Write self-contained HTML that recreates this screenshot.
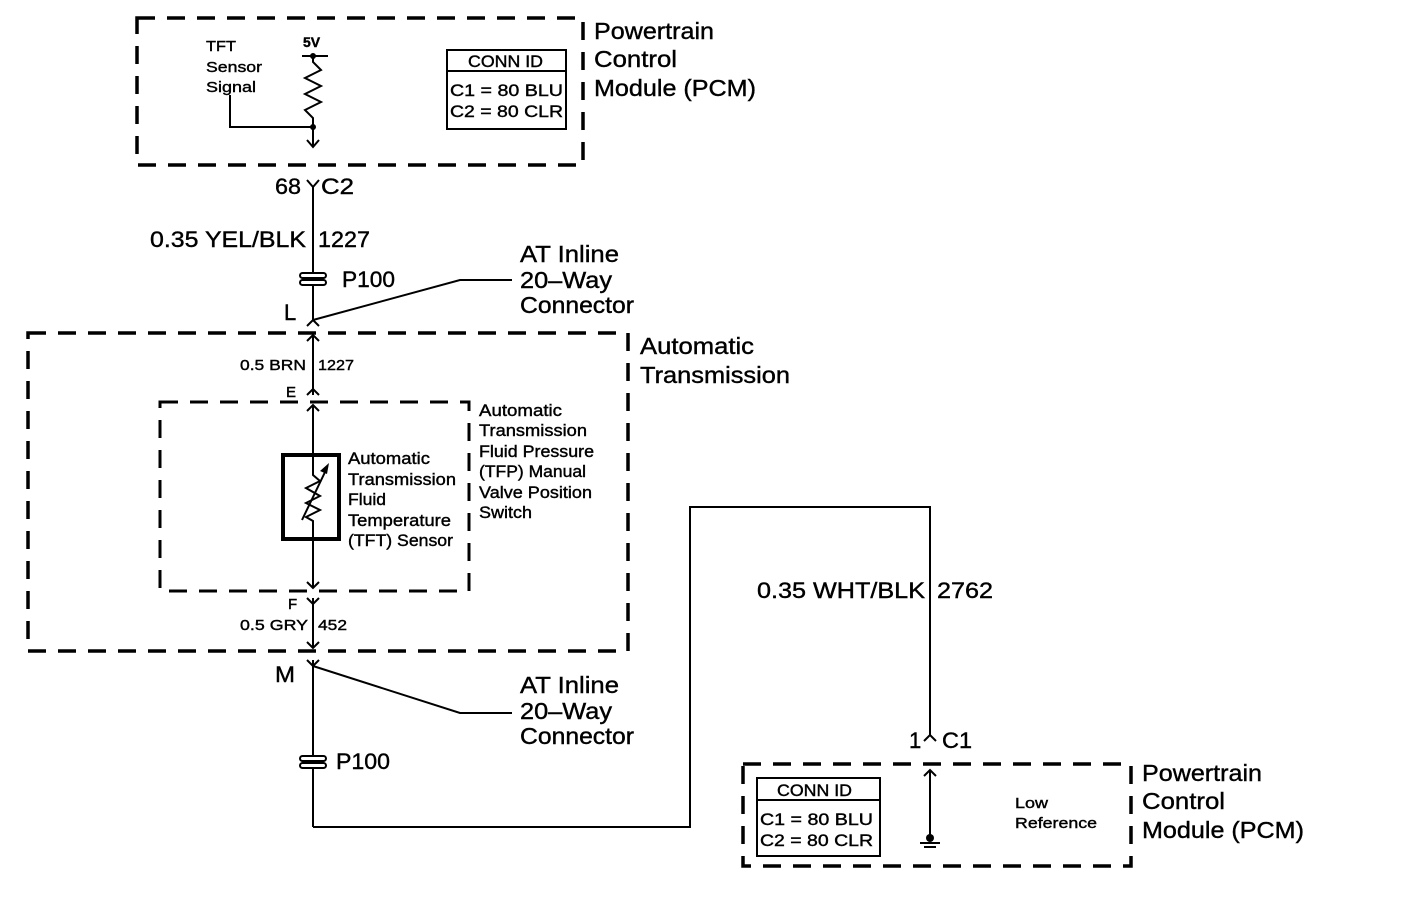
<!DOCTYPE html><html><head><style>html,body{margin:0;background:#fff}svg{display:block}text{font-family:"Liberation Sans",sans-serif;fill:#000;stroke:#000;stroke-width:0.4}</style></head><body>
<svg width="1408" height="910" xmlns="http://www.w3.org/2000/svg">
<g fill="none" stroke="#000" stroke-width="3.5" stroke-dasharray="18 12">
<rect x="137" y="18" width="446" height="147"/>
<rect x="28" y="333" width="600" height="318"/>
<rect x="160" y="402" width="309" height="189" stroke-width="3"/>
<rect x="743" y="764" width="388" height="102"/>
</g>
<g fill="none" stroke="#000" stroke-width="2">
<line x1="302" y1="56" x2="328" y2="56"/>
<polyline points="313,56 313,62 321,70 305,78 321,86 305,94 321,102 305,110 313,118 313,146"/>
<polyline points="307,140 313,147 319,140"/>
<polyline points="230,95 230,127 313,127"/>
<rect x="447" y="50" width="119" height="79"/>
<line x1="447" y1="71" x2="566" y2="71"/>
<line x1="313" y1="187" x2="313" y2="320"/>
<polyline points="307,180 313,187 319,180"/>
<polyline points="307,326 313,320 319,326"/>
<polyline points="313,320 460,280 512,280"/>
<line x1="313" y1="335" x2="313" y2="395"/>
<polyline points="307,341 313,335 319,341"/>
<polyline points="307,395 313,389 319,395"/>
<line x1="313" y1="405" x2="313" y2="454"/>
<polyline points="307,411 313,405 319,411"/>
<polyline points="313,540 313,588"/>
<polyline points="307,582 313,588 319,582"/>
<line x1="313" y1="598" x2="313" y2="648"/>
<polyline points="307,598 313,604 319,598"/>
<polyline points="307,642 313,648 319,642"/>
<line x1="313" y1="660" x2="313" y2="827"/>
<polyline points="307,660 313,666 319,660"/>
<polyline points="313,666 460,713 512,713"/>
<polyline points="313,827 690,827 690,507 930,507 930,735"/>
<polyline points="924,741 930,735 936,741"/>
<line x1="930" y1="770" x2="930" y2="838"/>
<polyline points="924,776 930,770 936,776"/>
<line x1="920" y1="843" x2="940" y2="843"/>
<line x1="924" y1="847" x2="936" y2="847"/>
<rect x="757" y="778" width="123" height="78"/>
<line x1="757" y1="800" x2="880" y2="800"/>
<polyline points="313,454 313,475 320,481 306,488 320,496 306,503 320,510 306,517 313,521 313,540"/>
<line x1="302" y1="520" x2="326" y2="470"/>
</g>
<rect x="283" y="455" width="56" height="84" fill="none" stroke="#000" stroke-width="4"/>
<polygon points="329,463 320,471 327,474" fill="#000"/>
<circle cx="313" cy="56" r="3"/><circle cx="313" cy="127" r="3"/><circle cx="930" cy="838" r="4"/>
<g stroke="#000" stroke-width="2" fill="#fff">
<rect x="300" y="273" width="26" height="5" rx="2.5"/><rect x="300" y="280" width="26" height="5" rx="2.5"/>
<rect x="300" y="756" width="26" height="5" rx="2.5"/><rect x="300" y="763" width="26" height="5" rx="2.5"/>
</g>
<g font-size="15">
<text x="206" y="51" textLength="30" lengthAdjust="spacingAndGlyphs">TFT</text><text x="206" y="72" textLength="56" lengthAdjust="spacingAndGlyphs">Sensor</text><text x="206" y="92" textLength="50" lengthAdjust="spacingAndGlyphs">Signal</text>
<text x="303" y="47" font-weight="bold" font-size="14">5V</text>
<text x="240" y="370" textLength="66" lengthAdjust="spacingAndGlyphs">0.5 BRN</text><text x="318" y="370" textLength="36" lengthAdjust="spacingAndGlyphs">1227</text>
<text x="286" y="397">E</text>
<text x="288" y="609">F</text>
<text x="240" y="630" textLength="68" lengthAdjust="spacingAndGlyphs">0.5 GRY</text><text x="318" y="630" textLength="29" lengthAdjust="spacingAndGlyphs">452</text>
<text x="1015" y="808" textLength="33" lengthAdjust="spacingAndGlyphs">Low</text><text x="1015" y="828" textLength="82" lengthAdjust="spacingAndGlyphs">Reference</text>
</g>
<g font-size="16.5">
<text x="468" y="67" textLength="75" lengthAdjust="spacingAndGlyphs">CONN ID</text><text x="450" y="96" textLength="113" lengthAdjust="spacingAndGlyphs">C1 = 80 BLU</text><text x="450" y="117" textLength="113" lengthAdjust="spacingAndGlyphs">C2 = 80 CLR</text>
<text x="777" y="796" textLength="75" lengthAdjust="spacingAndGlyphs">CONN ID</text><text x="760" y="825" textLength="113" lengthAdjust="spacingAndGlyphs">C1 = 80 BLU</text><text x="760" y="846" textLength="113" lengthAdjust="spacingAndGlyphs">C2 = 80 CLR</text>
<text x="348" y="464" textLength="82" lengthAdjust="spacingAndGlyphs">Automatic</text><text x="348" y="485" textLength="108" lengthAdjust="spacingAndGlyphs">Transmission</text><text x="348" y="505" textLength="38" lengthAdjust="spacingAndGlyphs">Fluid</text><text x="348" y="526" textLength="103" lengthAdjust="spacingAndGlyphs">Temperature</text><text x="348" y="546" textLength="105" lengthAdjust="spacingAndGlyphs">(TFT) Sensor</text>
<text x="479" y="416" textLength="83" lengthAdjust="spacingAndGlyphs">Automatic</text><text x="479" y="436" textLength="108" lengthAdjust="spacingAndGlyphs">Transmission</text><text x="479" y="457" textLength="115" lengthAdjust="spacingAndGlyphs">Fluid Pressure</text><text x="479" y="477" textLength="107" lengthAdjust="spacingAndGlyphs">(TFP) Manual</text><text x="479" y="498" textLength="113" lengthAdjust="spacingAndGlyphs">Valve Position</text><text x="479" y="518" textLength="53" lengthAdjust="spacingAndGlyphs">Switch</text>
</g>
<g font-size="22">
<text x="275" y="194" textLength="26" lengthAdjust="spacingAndGlyphs">68</text><text x="321" y="194" textLength="33" lengthAdjust="spacingAndGlyphs">C2</text>
<text x="150" y="247" textLength="156" lengthAdjust="spacingAndGlyphs">0.35 YEL/BLK</text><text x="318" y="247" textLength="52" lengthAdjust="spacingAndGlyphs">1227</text>
<text x="342" y="287" textLength="53" lengthAdjust="spacingAndGlyphs">P100</text>
<text x="284" y="320">L</text>
<text x="275" y="682" textLength="20" lengthAdjust="spacingAndGlyphs">M</text>
<text x="336" y="769" textLength="54" lengthAdjust="spacingAndGlyphs">P100</text>
<text x="757" y="598" textLength="168" lengthAdjust="spacingAndGlyphs">0.35 WHT/BLK</text><text x="937" y="598" textLength="56" lengthAdjust="spacingAndGlyphs">2762</text>
<text x="909" y="748">1</text><text x="942" y="748" textLength="30" lengthAdjust="spacingAndGlyphs">C1</text>
</g>
<g font-size="23">
<text x="594" y="39" textLength="120" lengthAdjust="spacingAndGlyphs">Powertrain</text><text x="594" y="67" textLength="83" lengthAdjust="spacingAndGlyphs">Control</text><text x="594" y="96" textLength="162" lengthAdjust="spacingAndGlyphs">Module (PCM)</text>
<text x="520" y="262" textLength="99" lengthAdjust="spacingAndGlyphs">AT Inline</text><text x="520" y="288" textLength="92" lengthAdjust="spacingAndGlyphs">20–Way</text><text x="520" y="313" textLength="114" lengthAdjust="spacingAndGlyphs">Connector</text>
<text x="640" y="354" textLength="114" lengthAdjust="spacingAndGlyphs">Automatic</text><text x="640" y="383" textLength="150" lengthAdjust="spacingAndGlyphs">Transmission</text>
<text x="520" y="693" textLength="99" lengthAdjust="spacingAndGlyphs">AT Inline</text><text x="520" y="719" textLength="92" lengthAdjust="spacingAndGlyphs">20–Way</text><text x="520" y="744" textLength="114" lengthAdjust="spacingAndGlyphs">Connector</text>
<text x="1142" y="781" textLength="120" lengthAdjust="spacingAndGlyphs">Powertrain</text><text x="1142" y="809" textLength="83" lengthAdjust="spacingAndGlyphs">Control</text><text x="1142" y="838" textLength="162" lengthAdjust="spacingAndGlyphs">Module (PCM)</text>
</g>
</svg></body></html>
